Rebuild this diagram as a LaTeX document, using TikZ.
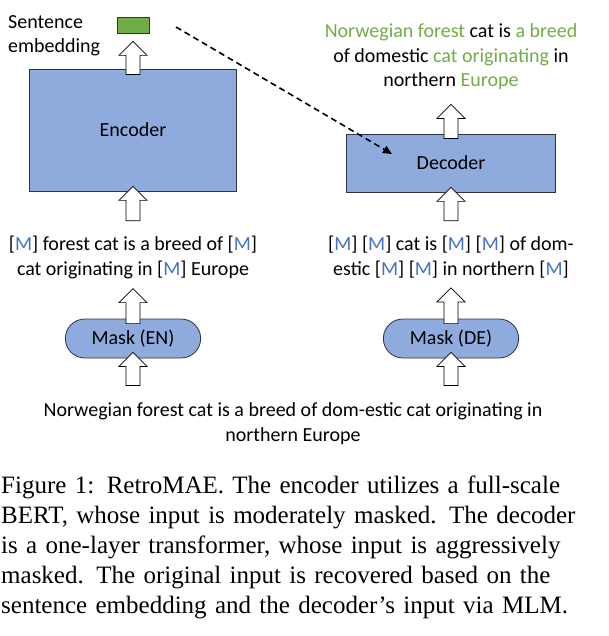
\documentclass[tikz,border=0pt]{standalone}
\usepackage{fontspec}
\setmainfont{Carlito}
\newfontfamily\capfont{Liberation Serif}
\usetikzlibrary{calc,arrows.meta,shapes.misc}

\definecolor{boxblue}{HTML}{8FAADC}
\definecolor{embgreen}{HTML}{70AD47}
\definecolor{mblue}{HTML}{4472C4}
\definecolor{edgegray}{HTML}{2E3440}

\newcommand{\msk}{[\textcolor{mblue}{M}]}
\newcommand{\grn}[1]{\textcolor{embgreen}{#1}}

\tikzset{
  txt/.style={font=\fontsize{20}{24.5}\selectfont, align=center, inner sep=0pt},
  block/.style={draw=edgegray, line width=0.8pt, fill=boxblue, font=\fontsize{20}{24.5}\selectfont},
  pill/.style={block, rounded rectangle, minimum width=142pt, minimum height=39pt},
  blockarr/.style={draw=black, line width=0.7pt, fill=white, to path={
    ($(\tikztostart)+(-7pt,0)$) -- ($(\tikztotarget)+(-7pt,-14pt)$)
    -- ($(\tikztotarget)+(-14pt,-14pt)$) -- (\tikztotarget)
    -- ($(\tikztotarget)+(14pt,-14pt)$) -- ($(\tikztotarget)+(7pt,-14pt)$)
    -- ($(\tikztostart)+(7pt,0)$) -- cycle}}
}

\begin{document}
\begin{tikzpicture}[x=1pt,y=-1pt]
  \useasboundingbox (0,0) rectangle (608,636);

  % encoder side
  \node[block, fill=embgreen, minimum width=32pt, minimum height=16pt, inner sep=0pt] (emb) at (133,25) {};
  \node[txt, align=left, anchor=base west] (embtxt) at (8,53) {Sentence\\embedding};
  \node[block, minimum width=207pt, minimum height=122pt] (enc) at (133,130) {Encoder};
  \node[txt, anchor=base] (encin) at (133,275) {\msk{} forest cat is a breed of \msk\\cat originating in \msk{} Europe};
  \node[pill] (maskEN) at (133,338.5) {Mask (EN)};

  % decoder side
  \node[txt, anchor=base] (target) at (451,87) {\grn{Norwegian forest} cat is \grn{a breed}\\of domestic \grn{cat originating} in\\northern \grn{Europe}};
  \node[block, minimum width=209pt, minimum height=58pt] (dec) at (451,163) {Decoder};
  \node[txt, anchor=base] (decin) at (451,275) {\msk{} \msk{} cat is \msk{} \msk{} of dom-\\estic \msk{} \msk{} in northern \msk};
  \node[pill] (maskDE) at (451,338.5) {Mask (DE)};

  % shared input
  \node[txt, anchor=base] (input) at (293,441) {Norwegian forest cat is a breed of dom-estic cat originating in\\northern Europe};

  % block arrows
  \draw[blockarr] ([yshift=-6pt]enc.north) to ([yshift=-8pt]emb.south);
  \draw[blockarr] ($(encin.north)+(0,15pt)$) to ([yshift=5pt]enc.south);
  \draw[blockarr] ([yshift=-5pt]maskEN.north) to ($(encin.south)+(0,-10pt)$);
  \draw[blockarr] ($(input.north -| maskEN.south)+(0,17pt)$) to ([yshift=6pt]maskEN.south);

  \draw[blockarr] ([yshift=-5pt]dec.north) to ($(target.south)+(0,-14pt)$);
  \draw[blockarr] ($(decin.north)+(0,15pt)$) to ([yshift=5pt]dec.south);
  \draw[blockarr] ([yshift=-5pt]maskDE.north) to ($(decin.south)+(0,-10pt)$);
  \draw[blockarr] ($(input.north -| maskDE.south)+(0,17pt)$) to ([yshift=6pt]maskDE.south);

  % embedding to decoder
  \coordinate (dstart) at (176,27);
  \coordinate (dend) at (392,154);
  \draw[line width=1.6pt, dash pattern=on 6pt off 4pt, -{Triangle[length=9pt,width=8pt]}] (dstart) -- (dend);

  % caption
  \node[anchor=north west, text width=582pt, inner sep=0pt,
        font=\capfont\fontsize{25}{30}\selectfont] (cap) at (1,476)
    {\hyphenpenalty=10000 \exhyphenpenalty=10000
     Figure 1: RetroMAE. The encoder utilizes a full-scale\linebreak
     BERT, whose input is moderately masked. The decoder\linebreak
     is a one-layer transformer, whose input is aggressively\linebreak
     masked. The original input is recovered based on the\linebreak
     sentence embedding and the decoder’s input via MLM.};
\end{tikzpicture}
\end{document}
